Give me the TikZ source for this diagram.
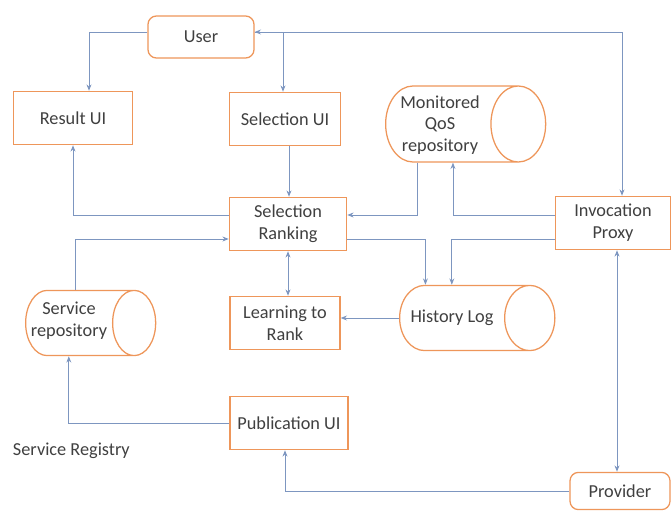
\documentclass[tikz,border=0pt]{standalone}
\usepackage{fontspec}
\setmainfont{Carlito}
\usetikzlibrary{shapes.geometric, positioning, arrows.meta}
\definecolor{boxorange}{RGB}{238,150,90}
\definecolor{linkblue}{RGB}{125,150,192}
\definecolor{textgray}{RGB}{64,64,64}

\begin{document}
\begin{tikzpicture}[
    x=0.025cm, y=-0.025cm,
    >={Stealth[length=4.5pt, width=3.5pt]},
    box/.style={rectangle, draw=boxorange, fill=white, line width=0.9pt, minimum width=2.75cm, minimum height=1.33cm, font=\fontsize{13}{15.5}\selectfont, text=textgray, align=center},
    rbox/.style={box, rounded corners=6pt},
    store/.style={cylinder, draw=boxorange, fill=white, line width=0.9pt, anchor=west, inner xsep=0pt},
    storetext/.style={font=\fontsize{13}{15.5}\selectfont, text=textgray, align=center},
    arrow/.style={->, draw=linkblue, line width=0.6pt},
    twoway/.style={<->, draw=linkblue, line width=0.6pt}
]
    \useasboundingbox (0,0) rectangle (672,512);

    % Users and interfaces
    \node[rbox, minimum width=2.65cm, minimum height=1.05cm] (user) at (201,37) {User};
    \node[box, minimum width=2.98cm] (result) at (73,118) {Result UI};
    \node[box, minimum width=2.78cm] (selui) at (285,119) {Selection UI};

    % Ranking core
    \node[box, minimum width=2.93cm] (rank) at (288,224) {Selection\\Ranking};
    \node[box] (learn) at (285,323) {Learning to\\Rank};
    \node[box, minimum width=2.95cm] (pub) at (289,423) {Publication UI};
    \node[box, minimum width=2.88cm] (proxy) at (613,223) {Invocation\\Proxy};
    \node[rbox, minimum width=2.5cm, minimum height=0.93cm] (prov) at (620,491) {Provider};

    % Repositories
    \node[store, minimum height=4cm, inner ysep=0.95cm, aspect=0.72] (qos) at (385,124) {};
    \node[storetext] (qostext) at (440,125) {Monitored\\QoS\\repository};
    \node[store, minimum height=3.25cm, inner ysep=0.815cm, aspect=0.66] (servrepo) at (25,323) {};
    \node[storetext] (servtext) at (69,321) {Service\\repository};
    \node[store, minimum height=3.88cm, inner ysep=0.815cm, aspect=0.77] (hist) at (399,318) {};
    \node[storetext] (histtext) at (452,318) {History Log};

    \node[storetext, anchor=west] (registry) at (8,451) {Service Registry};

    % Connectors
    \draw[arrow] ([yshift=0.125cm]user.west) -| ([xshift=0.4cm]result.north);
    \draw[arrow] ([yshift=0.125cm]user.east) -| ([xshift=-0.05cm]selui.north);
    \draw[twoway] ([yshift=0.125cm]user.east) -| ([xshift=0.225cm]proxy.north);
    \draw[arrow] ([xshift=0.1cm]selui.south) -- ([xshift=0.1cm]selui.south |- rank.north);
    \draw[arrow] ([yshift=0.225cm]rank.west) -| (result.south);
    \draw[arrow] ([xshift=0.175cm]servrepo.north) |- ([yshift=-0.375cm]rank.west);
    \draw[twoway] (rank.south) -- (rank.south |- learn.north);
    \draw[arrow] ([xshift=-0.525cm]qos.south) |- ([yshift=0.225cm]rank.east);
    \draw[arrow] ([yshift=0.2cm]proxy.west) -| ([xshift=0.375cm]qos.south);
    \draw[arrow] ([yshift=-0.375cm]rank.east) -| ([xshift=-0.66cm]hist.north);
    \draw[arrow] ([yshift=-0.4cm]proxy.west) -| (hist.north);
    \draw[arrow] (hist.west) -- (hist.west -| learn.east);
    \draw[arrow] (pub.west) -| (servrepo.south);
    \draw[arrow] (prov.west) -| ([xshift=-0.1cm]pub.south);
    \draw[twoway] ([xshift=-0.075cm]prov.north) -- ([xshift=-0.075cm]prov.north |- proxy.south);
\end{tikzpicture}
\end{document}
